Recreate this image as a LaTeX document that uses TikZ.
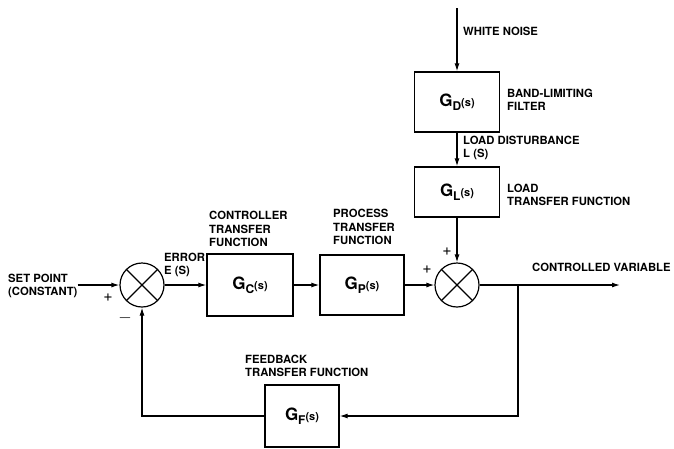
\documentclass[tikz,border=0pt]{standalone}
\usepackage{fontspec}
\setmainfont{TeX Gyre Heros}
\usetikzlibrary{arrows.meta,positioning,calc}
\newcommand{\gfun}[1]{{\fontsize{17}{17}\selectfont G}\raisebox{-4pt}{\fontsize{12}{12}\selectfont #1}{\fontsize{11}{11}\selectfont (s)}}
\tikzset{
  unit/.style={draw=black,line width=1.3pt,minimum width=86pt,minimum height=62pt,font=\bfseries,inner sep=0pt},
  sumj/.style={circle,draw=black,line width=1.2pt,minimum size=44pt,inner sep=0pt,
    path picture={\draw[line width=1.2pt] (path picture bounding box.north west) -- (path picture bounding box.south east)
      (path picture bounding box.north east) -- (path picture bounding box.south west);}},
  tag/.style={font=\fontsize{11.3}{13.5}\selectfont\bfseries,align=left,anchor=west,inner sep=0pt},
  sgn/.style={font=\fontsize{16}{16}\selectfont,inner sep=0pt},
  arr/.style={-{Latex[length=8pt,width=5pt]},draw=black,line width=1.2pt}
}

\begin{document}
\begin{tikzpicture}[x=1pt,y=-1pt]
  \useasboundingbox (0,0) rectangle (674,448);

  % summing junctions and blocks
  \node[sumj] (sum1) at (142,285) {};
  \node[unit] (gc) at (250,285) {\gfun{C}};
  \node[unit,minimum width=84pt,minimum height=60pt] (gp) at (362,285) {\gfun{P}};
  \node[sumj] (sum2) at (457,285) {};
  \node[unit,minimum width=85pt,minimum height=60pt] (gd) at (457,102) {\gfun{D}};
  \node[unit,minimum width=85pt,minimum height=50pt] (gl) at (457,192) {\gfun{L}};
  \node[unit,minimum width=74pt,minimum height=62pt] (gf) at (302,416) {\gfun{F}};

  % labels
  \node[tag] (setpt) at (8,286) {SET POINT\\(CONSTANT)};
  \node[tag] (err) at (164,265) {ERROR\\E (S)};
  \node[tag] (ctrl) at (209,229) {CONTROLLER\\TRANSFER\\FUNCTION};
  \node[tag] (proc) at (333,227) {PROCESS\\TRANSFER\\FUNCTION};
  \node[tag] (wn) at (463,31) {WHITE NOISE};
  \node[tag] (band) at (507,100) {BAND-LIMITING\\FILTER};
  \node[tag] (dist) at (463,148) {LOAD DISTURBANCE\\L (S)};
  \node[tag] (load) at (507,195) {LOAD\\TRANSFER FUNCTION};
  \node[tag] (cv) at (532,267) {CONTROLLED VARIABLE};
  \node[tag] (fb) at (245,366) {FEEDBACK\\TRANSFER FUNCTION};

  % signs
  \node[sgn] (p1) at (108,298) {+};
  \node[sgn] (m1) at (125,318) {$-$};
  \node[sgn] (p2) at (427,270) {+};
  \node[sgn] (p3) at (447,252) {+};

  \coordinate (noise) at (457,8);
  \coordinate (out) at (620,285);
  \coordinate (branch) at (518,285);

  % signal lines
  \draw[arr] (setpt.east |- sum1) -- (sum1);
  \draw[arr] (sum1) -- (gc);
  \draw[arr] (gc) -- (gp);
  \draw[arr] (gp) -- (sum2);
  \draw[arr] (noise) -- (gd);
  \draw[arr] (gd) -- (gl);
  \draw[arr] (gl) -- (sum2);
  \draw[arr] (sum2) -- (out);
  \draw[arr] (branch) |- (gf);
  \draw[arr] (gf) -| (sum1);
\end{tikzpicture}
\end{document}
